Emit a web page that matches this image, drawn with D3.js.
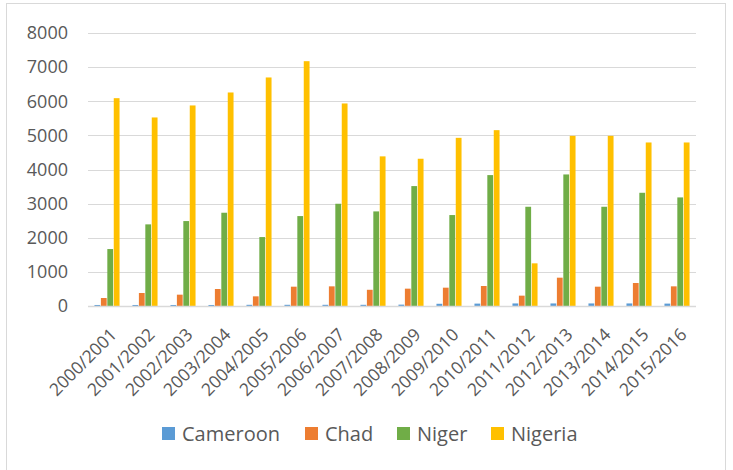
<!DOCTYPE html>
<html>
<head>
<meta charset="utf-8">
<script src="https://cdn.jsdelivr.net/npm/d3@7"></script>
<style>
  body { margin: 0; background: #fff; }
  text { font-family: "Open Sans", "Liberation Sans", sans-serif; fill: #595959; }
</style>
</head>
<body>
<div id="chart"></div>
<script>
// Data
const years = ["2000/2001", "2001/2002", "2002/2003", "2003/2004", "2004/2005", "2005/2006",
  "2006/2007", "2007/2008", "2008/2009", "2009/2010", "2010/2011", "2011/2012",
  "2012/2013", "2013/2014", "2014/2015", "2015/2016"];
const countries = ["Cameroon", "Chad", "Niger", "Nigeria"];
const cameroon = [30, 30, 30, 30, 35, 35, 35, 35, 40, 65, 70, 75, 75, 75, 75, 70];
const chad = [234, 381, 332, 498, 283, 566, 576, 475, 508, 537, 586, 303, 830, 566, 674, 576];
const niger = [1669, 2392, 2489, 2733, 2020, 2635, 2996, 2772, 3514, 2665, 3836, 2908, 3855, 2908, 3318, 3182];
const nigeria = [6090, 5525, 5877, 6257, 6697, 7174, 5935, 4385, 4315, 4928, 5153, 1250, 4987, 4987, 4792, 4792];
const yTicks = [0, 1000, 2000, 3000, 4000, 5000, 6000, 7000, 8000];
const colors = ["#5b9bd5", "#ed7d31", "#70ad47", "#ffc000"];

const series = [cameroon, chad, niger, nigeria];
const data = years.map((y, i) => ({ year: y, values: countries.map((c, j) => ({ key: c, value: series[j][i] })) }));

const width = 733, height = 470;
const plot = { left: 88, right: 696, top: 33, bottom: 306 };

const svg = d3.select("#chart").append("svg")
  .attr("width", width)
  .attr("height", height);

// Chart border
svg.append("rect")
  .attr("x", 6.5).attr("y", 3.5)
  .attr("width", 719).attr("height", 480)
  .attr("fill", "#fff")
  .attr("stroke", "#d9d9d9");

const x0 = d3.scaleBand().domain(years).range([plot.left, plot.right]);
const x1 = d3.scaleBand().domain(countries)
  .range([x0.bandwidth() * 0.17, x0.bandwidth() * 0.83])
  .paddingInner(0.1);
const y = d3.scaleLinear().domain([0, 8000]).range([plot.bottom, plot.top]);

// Gridlines
svg.append("g")
  .selectAll("line")
  .data(yTicks.slice(1))
  .join("line")
  .attr("x1", plot.left).attr("x2", plot.right)
  .attr("y1", d => Math.round(y(d)) + 0.5)
  .attr("y2", d => Math.round(y(d)) + 0.5)
  .attr("stroke", "#d9d9d9")
  .attr("stroke-width", 1.2);

// Y axis labels
const yAxis = svg.append("g")
  .attr("transform", `translate(${plot.left - 20},0)`)
  .call(d3.axisLeft(y).tickValues(yTicks).tickFormat(d3.format("d")).tickSize(0).tickPadding(0));
yAxis.select(".domain").remove();
yAxis.selectAll("text")
  .style("font-size", "18px")
  .attr("fill", "#595959");

// Bars
const groups = svg.append("g")
  .selectAll("g")
  .data(data)
  .join("g")
  .attr("transform", d => `translate(${x0(d.year)},0)`);

groups.selectAll("rect")
  .data(d => d.values)
  .join("rect")
  .attr("x", d => x1(d.key))
  .attr("y", d => y(d.value))
  .attr("width", x1.bandwidth())
  .attr("height", d => y(0) - y(d.value))
  .attr("fill", (d, i) => colors[i]);

// X axis line
svg.append("line")
  .attr("x1", plot.left).attr("x2", plot.right)
  .attr("y1", plot.bottom + 0.5).attr("y2", plot.bottom + 0.5)
  .attr("stroke", "#d9d9d9")
  .attr("stroke-width", 1.5);

// X axis labels, rotated
svg.append("g")
  .selectAll("text")
  .data(years)
  .join("text")
  .attr("transform", d => `translate(${x0(d) + x0.bandwidth() / 2 + 2},${plot.bottom + 21}) rotate(-45)`)
  .attr("text-anchor", "end")
  .attr("dy", "0.71em")
  .style("font-size", "17.5px")
  .text(d => d);

// Legend
const legendX = [162, 305, 397, 491];
const legend = svg.append("g");
countries.forEach((c, i) => {
  legend.append("rect")
    .attr("x", legendX[i]).attr("y", 427)
    .attr("width", 13).attr("height", 13)
    .attr("fill", colors[i]);
  legend.append("text")
    .attr("x", legendX[i] + 20).attr("y", 434)
    .attr("dy", "0.35em")
    .style("font-size", "20px")
    .text(c);
});
</script>
</body>
</html>
